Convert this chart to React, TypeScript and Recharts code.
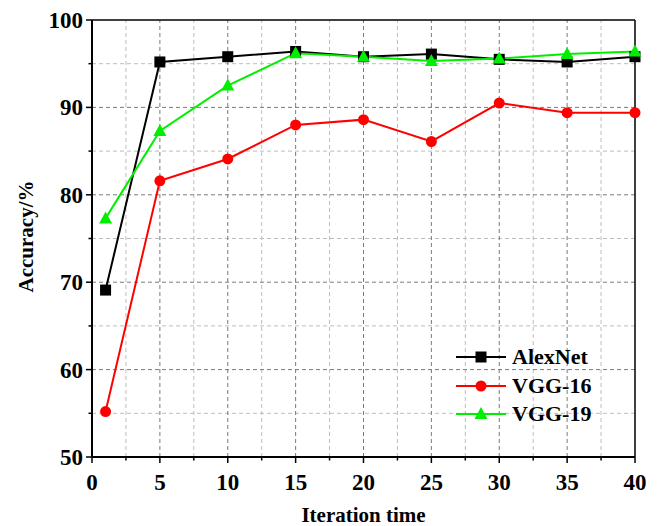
import React from 'react';
import { LineChart, Line, XAxis, YAxis, ReferenceLine, Legend } from 'recharts';

const iterations = [1, 5, 10, 15, 20, 25, 30, 35, 40];
const alexNet = [69.1, 95.2, 95.8, 96.4, 95.8, 96.1, 95.5, 95.2, 95.8];
const vgg16 = [55.2, 81.6, 84.1, 88.0, 88.6, 86.1, 90.5, 89.4, 89.4];
const vgg19 = [77.3, 87.3, 92.5, 96.2, 95.8, 95.3, 95.6, 96.1, 96.4];

const xMajor = [0, 5, 10, 15, 20, 25, 30, 35, 40];
const xMinor = [2.5, 7.5, 12.5, 17.5, 22.5, 27.5, 32.5, 37.5];
const yMajor = [50, 60, 70, 80, 90, 100];
const yMinor = [55, 65, 75, 85, 95];

const series = [
  { key: 'alex', name: 'AlexNet', color: '#000000', shape: 'square' },
  { key: 'vgg16', name: 'VGG-16', color: '#FF0000', shape: 'circle' },
  { key: 'vgg19', name: 'VGG-19', color: '#00EE00', shape: 'triangle' },
];

const data = iterations.map((it, i) => ({ it, alex: alexNet[i], vgg16: vgg16[i], vgg19: vgg19[i] }));

const FONT = '"Liberation Serif", "Times New Roman", serif';

const Marker = ({ cx, cy, shape, color }: any) => {
  if (cx == null || cy == null) return null;
  if (shape === 'square') return <rect x={cx - 5.5} y={cy - 5.5} width={11} height={11} fill={color} />;
  if (shape === 'circle') return <circle cx={cx} cy={cy} r={5.5} fill={color} />;
  return <polygon points={`${cx},${cy - 7} ${cx - 6.5},${cy + 5} ${cx + 6.5},${cy + 5}`} fill={color} />;
};

const XTick = ({ x, y, payload }: any) => {
  const major = payload.value % 5 === 0;
  return (
    <g>
      <line x1={x} x2={x} y1={y} y2={y + (major ? 6 : 3.5)} stroke="#000" strokeWidth={1.5} />
      {major && (
        <text x={x} y={y + 33} textAnchor="middle" fontFamily={FONT} fontWeight="bold" fontSize={23} fill="#000">
          {payload.value}
        </text>
      )}
    </g>
  );
};

const YTick = ({ x, y, payload }: any) => {
  const major = payload.value % 10 === 0;
  return (
    <g>
      <line x1={x} x2={x - (major ? 6 : 3.5)} y1={y} y2={y} stroke="#000" strokeWidth={1.5} />
      {major && (
        <text x={x - 9} y={y + 8} textAnchor="end" fontFamily={FONT} fontWeight="bold" fontSize={23} fill="#000">
          {payload.value}
        </text>
      )}
    </g>
  );
};

const LegendBox = () => (
  <div style={{ fontFamily: FONT, fontWeight: 'bold', fontSize: 22 }}>
    {series.map((s) => (
      <div key={s.key} style={{ display: 'flex', alignItems: 'center', height: 28.5 }}>
        <svg width={56} height={20}>
          <line x1={2} x2={52} y1={10} y2={10} stroke={s.color} strokeWidth={2} />
          <Marker cx={27} cy={10} shape={s.shape} color={s.color} />
        </svg>
        <span style={{ marginLeft: 2 }}>{s.name}</span>
      </div>
    ))}
  </div>
);

export default function App() {
  return (
    <div style={{ position: 'absolute', left: 0, top: 0, width: 657, height: 526, background: '#fff' }}>
      <LineChart width={657} height={526} data={data} margin={{ top: 20, right: 22, bottom: 0, left: 0 }}>
        {xMinor.map((v) => (
          <ReferenceLine key={`xm${v}`} x={v} stroke="#bdbdbd" strokeDasharray="4 3" />
        ))}
        {yMinor.map((v) => (
          <ReferenceLine key={`ym${v}`} y={v} stroke="#bdbdbd" strokeDasharray="4 3" />
        ))}
        {xMajor.slice(1, -1).map((v) => (
          <ReferenceLine key={`xM${v}`} x={v} stroke="#7a7a7a" strokeDasharray="4 3" />
        ))}
        {yMajor.slice(1, -1).map((v) => (
          <ReferenceLine key={`yM${v}`} y={v} stroke="#7a7a7a" strokeDasharray="4 3" />
        ))}
        <ReferenceLine y={100} stroke="#000" strokeWidth={1.5} />
        <ReferenceLine x={40} stroke="#000" strokeWidth={1.5} />
        <XAxis
          dataKey="it"
          type="number"
          domain={[0, 40]}
          ticks={[...xMajor, ...xMinor].sort((a, b) => a - b)}
          interval={0}
          tickSize={0}
          tickMargin={0}
          tickLine={false}
          axisLine={{ stroke: '#000', strokeWidth: 2 }}
          tick={<XTick />}
          height={69}
          label={{ value: 'Iteration time', position: 'insideBottom', offset: 0, dy: -4, fontFamily: FONT, fontWeight: 'bold', fontSize: 21, fill: '#000' }}
        />
        <YAxis
          type="number"
          domain={[50, 100]}
          ticks={[...yMajor, ...yMinor].sort((a, b) => a - b)}
          interval={0}
          tickSize={0}
          tickMargin={0}
          tickLine={false}
          axisLine={{ stroke: '#000', strokeWidth: 2 }}
          tick={<YTick />}
          width={92}
          label={{ value: 'Accuracy/%', angle: -90, position: 'insideLeft', offset: 26, dy: 54, fontFamily: FONT, fontWeight: 'bold', fontSize: 21, fill: '#000' }}
        />
        {series.map((s) => (
          <Line
            key={s.key}
            dataKey={s.key}
            name={s.name}
            type="linear"
            stroke={s.color}
            strokeWidth={2}
            isAnimationActive={false}
            dot={(p: any) => <Marker key={`${s.key}-${p.index}`} cx={p.cx} cy={p.cy} shape={s.shape} color={s.color} />}
            activeDot={false}
          />
        ))}
        <Legend
          layout="vertical"
          align="center"
          verticalAlign="middle"
          content={<LegendBox />}
          wrapperStyle={{ left: 454, top: 343, width: 190 }}
        />
      </LineChart>
    </div>
  );
}
